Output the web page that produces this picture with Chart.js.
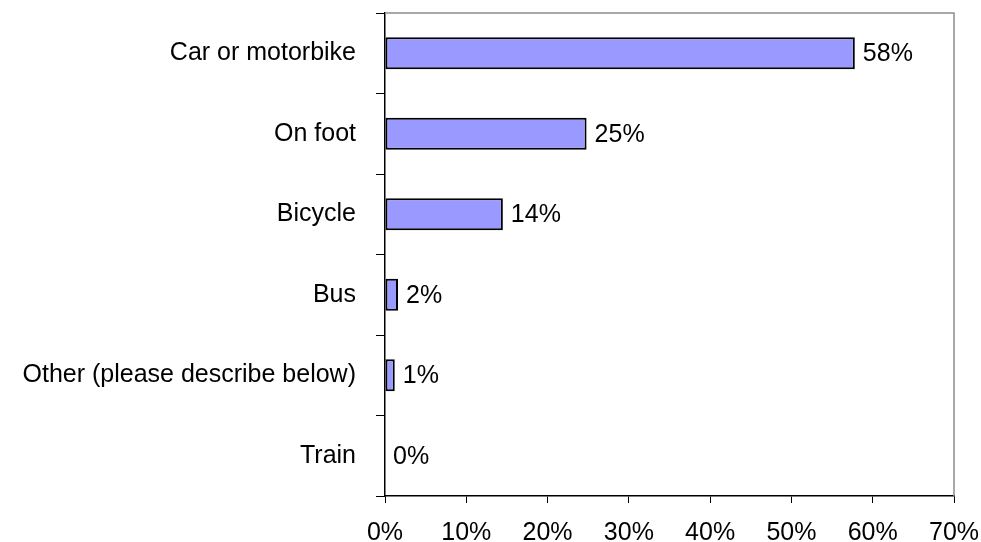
<!DOCTYPE html>
<html>
<head>
<meta charset="utf-8">
<script src="https://cdn.jsdelivr.net/npm/chart.js@4"></script>
<style>
  html, body { margin: 0; padding: 0; background: #fff; }
  #wrap { width: 981px; height: 542px; }
</style>
</head>
<body>
<div id="wrap"><canvas id="chart" width="981" height="542"></canvas></div>
<script>
// Data
const categories = ['Car or motorbike', 'On foot', 'Bicycle', 'Bus', 'Other (please describe below)', 'Train'];
const shares = [57.8, 24.8, 14.5, 1.6, 1.2, 0];
const shareLabels = ['58%', '25%', '14%', '2%', '1%', '0%'];
const xTicks = [0, 10, 20, 30, 40, 50, 60, 70];

const FONT = { family: '"Liberation Sans", Arial, sans-serif', size: 25 };

// gray frame on top and right of the plot area
const framePlugin = {
  id: 'frame',
  afterDraw(chart) {
    const { ctx, chartArea: a } = chart;
    ctx.save();
    ctx.strokeStyle = '#8c8c8c';
    ctx.lineWidth = 1.5;
    ctx.beginPath();
    ctx.moveTo(a.left, a.top);
    ctx.lineTo(a.right, a.top);
    ctx.lineTo(a.right, a.bottom);
    ctx.stroke();
    ctx.restore();
  }
};

// value labels at the end of each bar
const valueLabels = {
  id: 'valueLabels',
  afterDatasetsDraw(chart) {
    const { ctx } = chart;
    const meta = chart.getDatasetMeta(0);
    ctx.save();
    ctx.font = `${FONT.size}px ${FONT.family}`;
    ctx.fillStyle = '#000';
    ctx.textAlign = 'left';
    ctx.textBaseline = 'middle';
    meta.data.forEach((bar, i) => {
      ctx.fillText(shareLabels[i], bar.x + 8, bar.y + 1);
    });
    ctx.restore();
  }
};

new Chart(document.getElementById('chart'), {
  type: 'bar',
  data: {
    labels: categories,
    datasets: [{
      data: shares,
      backgroundColor: '#9999ff',
      borderColor: '#000',
      borderWidth: 2,
      borderSkipped: false,
      categoryPercentage: 1,
      barPercentage: 0.4
    }]
  },
  options: {
    indexAxis: 'y',
    responsive: false,
    animation: false,
    layout: { padding: { top: 13, right: 27, left: 0, bottom: 0 } },
    plugins: { legend: { display: false }, tooltip: { enabled: false } },
    scales: {
      x: {
        min: 0,
        max: 70,
        afterBuildTicks(scale) { scale.ticks = xTicks.map(v => ({ value: v })); },
        afterFit(scale) { scale.height = 46; scale.paddingRight = 0; scale.paddingLeft = 0; },
        border: { color: '#000', width: 1.5 },
        grid: { drawOnChartArea: false, tickLength: 7, color: '#000', lineWidth: 1 },
        ticks: {
          color: '#000',
          font: FONT,
          padding: 15,
          maxRotation: 0,
          callback: v => v + '%'
        }
      },
      y: {
        afterFit(scale) { scale.width = 385; scale.paddingTop = 0; scale.paddingBottom = 0; },
        border: { color: '#000', width: 1.5 },
        grid: { drawOnChartArea: false, tickLength: 9, color: '#000', lineWidth: 1, offset: true },
        ticks: { color: '#000', font: FONT, padding: 20 }
      }
    }
  },
  plugins: [framePlugin, valueLabels]
});
</script>
</body>
</html>
